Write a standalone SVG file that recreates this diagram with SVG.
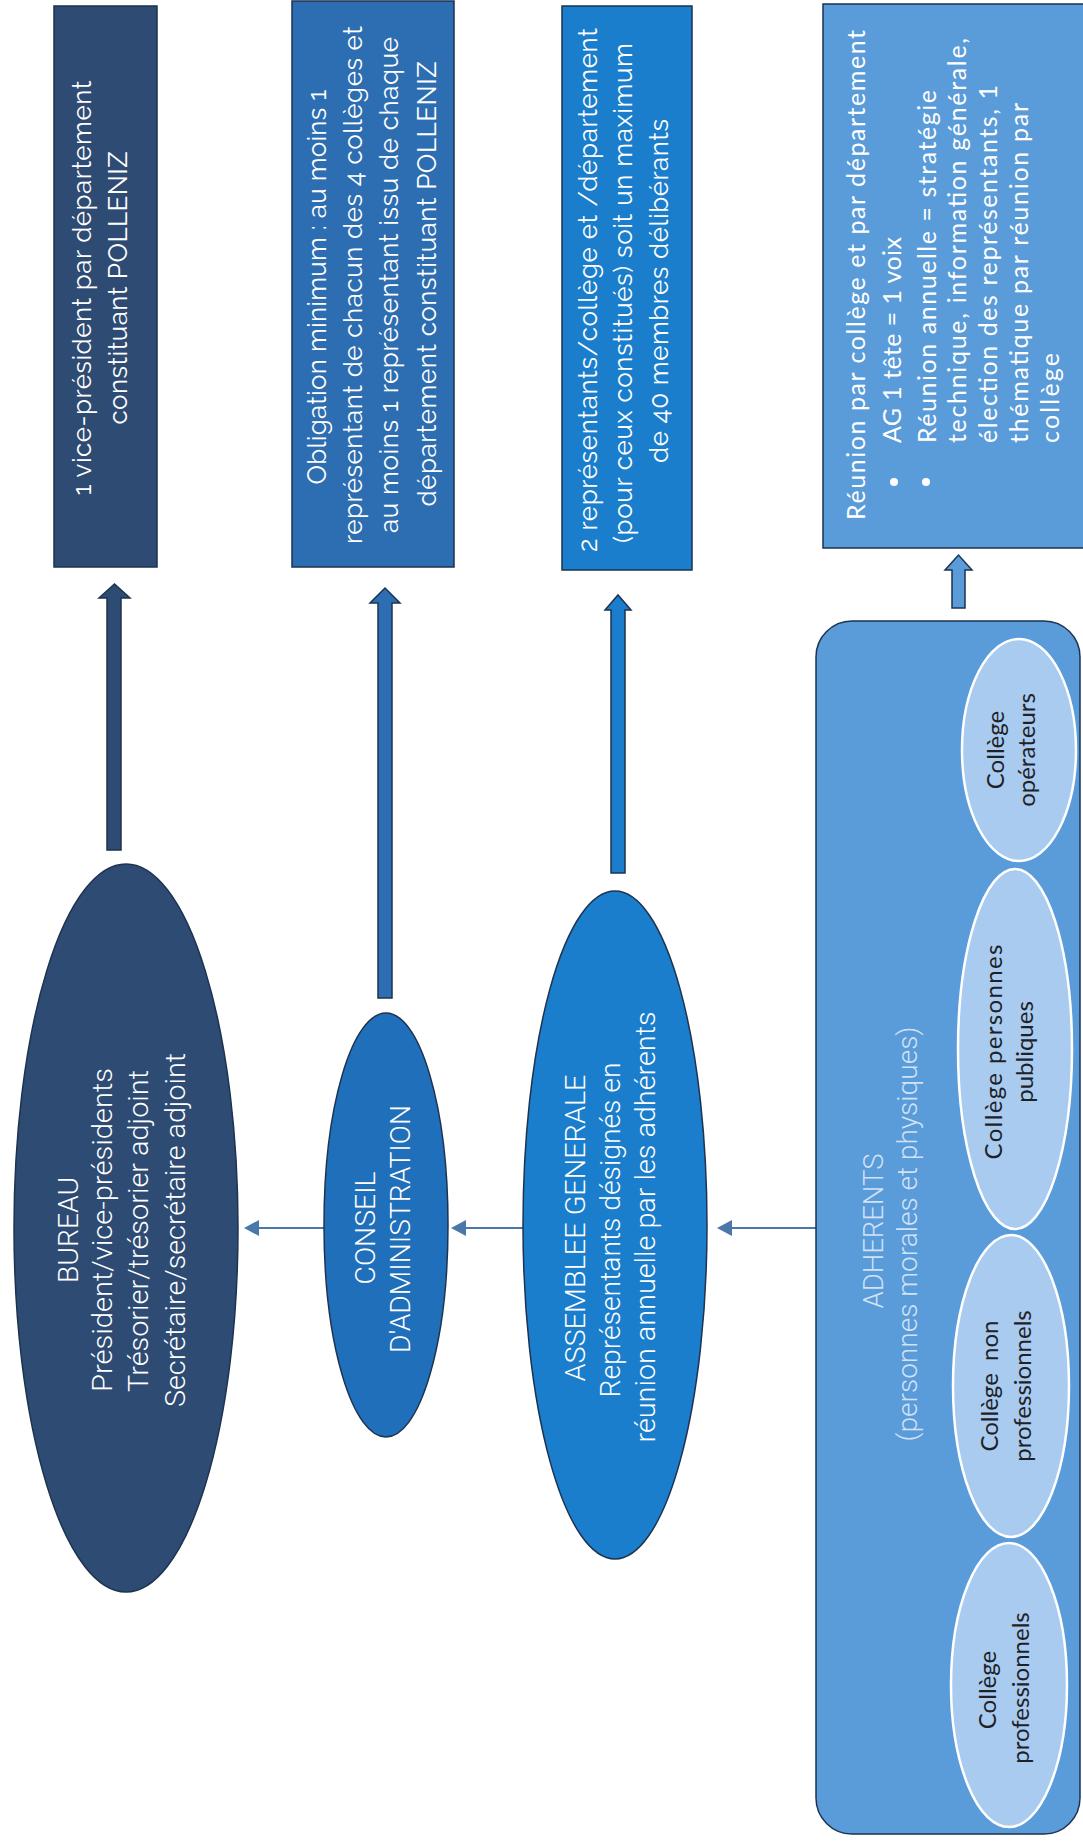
<svg xmlns="http://www.w3.org/2000/svg" width="1083" height="1844" viewBox="0 0 1083 1844">
<defs>
<style>
.bg{fill:#ffffff}
.edge{stroke:#1d3350;stroke-width:1.5}
.navy{fill:#2e4b73}
.mid{fill:#2d6db1}
.ca{fill:#1f6fba}
.bright{fill:#1a7ecd}
.light{fill:#5a9bda}
.college{fill:#a9cbf0;stroke:#ffffff;stroke-width:2.5}
.t{font-family:Raleway,Lato,"Liberation Sans",sans-serif;fill:#ffffff;font-size:26px}
.c{font-family:Lato,"Liberation Sans",sans-serif;fill:#ffffff;font-size:25px}
.e{font-family:Roboto,"Liberation Sans",sans-serif;font-weight:300;fill:#ffffff;font-size:28px}
.k{font-family:Lato,"Liberation Sans",sans-serif;fill:#1e2226;font-size:24px}
.m{text-anchor:middle}
.hl{stroke:#4a78a8;stroke-width:2;fill:none}
.vh{stroke:#1d3350;stroke-width:1.5}
</style>
<marker id="ah" viewBox="0 0 15 16" refX="1" refY="8" markerWidth="15" markerHeight="16" markerUnits="userSpaceOnUse" orient="auto-start-reverse">
<path d="M0,0 L15,8 L0,16 z" fill="#4a78a8"/>
</marker>
</defs>
<rect class="bg" x="0" y="0" width="1083" height="1844"/>

<g id="connectors">
<path class="vh navy" d="M107,850 L107,598 L99,598 L114.5,584 L130,598 L121,598 L121,850 Z"/>
<path class="vh mid" d="M378,998 L378,603 L370,603 L385,588 L400,603 L392,603 L392,998 Z"/>
<path class="vh bright" d="M611,873 L611,610 L605,610 L618,595 L631,610 L625,610 L625,873 Z"/>
<path class="vh light" d="M952,608 L952,570 L945,570 L958.5,555 L972,570 L965,570 L965,608 Z"/>
<line class="hl" x1="324" y1="1228" x2="258" y2="1228" marker-end="url(#ah)"/>
<line class="hl" x1="524" y1="1228" x2="465" y2="1228" marker-end="url(#ah)"/>
<line class="hl" x1="817" y1="1228" x2="731" y2="1228" marker-end="url(#ah)"/>
</g>

<g id="box-vp">
<rect class="navy edge" x="54" y="6" width="103" height="561"/>
<text class="t m" x="91" y="288" transform="rotate(-90 91 288)" textLength="415">1 vice-président par département</text>
<text class="t m" x="127" y="288" transform="rotate(-90 127 288)" textLength="273">constituant POLLENIZ</text>
</g>

<g id="box-obligation">
<rect class="mid edge" x="292" y="1" width="162" height="566"/>
<text class="t m" x="326" y="287" transform="rotate(-90 326 287)" textLength="395">Obligation minimum : au moins 1</text>
<text class="t m" x="362" y="285" transform="rotate(-90 362 285)" textLength="518">représentant de chacun des 4 collèges et</text>
<text class="t m" x="398" y="285" transform="rotate(-90 398 285)" textLength="496">au moins 1 représentant issu de chaque</text>
<text class="t m" x="436" y="284" transform="rotate(-90 436 284)" textLength="445">département constituant POLLENIZ</text>
</g>

<g id="box-representants">
<rect class="bright edge" x="562" y="6" width="130" height="564"/>
<text class="t m" x="597" y="290" transform="rotate(-90 597 290)" textLength="524">2 représentants/collège et /département</text>
<text class="t m" x="632" y="293" transform="rotate(-90 632 293)" textLength="500">(pour ceux constitués) soit un maximum</text>
<text class="t m" x="668" y="291" transform="rotate(-90 668 291)" textLength="344">de 40 membres délibérants</text>
</g>

<g id="box-reunion">
<rect class="light edge" x="823" y="4" width="270" height="544"/>
<text class="c" x="865" y="520" transform="rotate(-90 865 520)" textLength="490">Réunion par collège et par département</text>
<circle cx="894" cy="482" r="4" fill="#ffffff"/>
<circle cx="926" cy="482" r="4" fill="#ffffff"/>
<text class="c" x="901" y="443" transform="rotate(-90 901 443)" textLength="206">AG 1 tête = 1 voix</text>
<text class="c" x="936" y="443" transform="rotate(-90 936 443)" textLength="353">Réunion annuelle = stratégie</text>
<text class="c" x="966" y="443" transform="rotate(-90 966 443)" textLength="405">technique, information générale,</text>
<text class="c" x="997" y="443" transform="rotate(-90 997 443)" textLength="358">élection des représentants, 1</text>
<text class="c" x="1028" y="443" transform="rotate(-90 1028 443)" textLength="340">thématique par réunion par</text>
<text class="c" x="1059" y="443" transform="rotate(-90 1059 443)" textLength="90">collège</text>
</g>

<g id="bureau">
<ellipse class="navy edge" cx="126" cy="1228" rx="112" ry="364"/>
<text class="e m" x="78" y="1230" transform="rotate(-90 78 1230)" textLength="106" lengthAdjust="spacingAndGlyphs">BUREAU</text>
<text class="e m" x="112" y="1230" transform="rotate(-90 112 1230)" textLength="324" lengthAdjust="spacingAndGlyphs">Président/vice-présidents</text>
<text class="e m" x="148" y="1231" transform="rotate(-90 148 1231)" textLength="322" lengthAdjust="spacingAndGlyphs">Trésorier/trésorier adjoint</text>
<text class="e m" x="185" y="1230" transform="rotate(-90 185 1230)" textLength="354" lengthAdjust="spacingAndGlyphs">Secrétaire/secrétaire adjoint</text>
</g>

<g id="conseil">
<ellipse class="ca edge" cx="386" cy="1225" rx="62" ry="212"/>
<text class="e m" x="375" y="1228" transform="rotate(-90 375 1228)" textLength="113" lengthAdjust="spacingAndGlyphs">CONSEIL</text>
<text class="e m" x="410" y="1229" transform="rotate(-90 410 1229)" textLength="248" lengthAdjust="spacingAndGlyphs">D'ADMINISTRATION</text>
</g>

<g id="assemblee">
<ellipse class="bright edge" cx="615" cy="1225" rx="92" ry="334"/>
<text class="e m" x="585" y="1228" transform="rotate(-90 585 1228)" textLength="307" lengthAdjust="spacingAndGlyphs">ASSEMBLEE GENERALE</text>
<text class="e m" x="620" y="1230" transform="rotate(-90 620 1230)" textLength="335" lengthAdjust="spacingAndGlyphs">Représentants désignés en</text>
<text class="e m" x="655" y="1227" transform="rotate(-90 655 1227)" textLength="431" lengthAdjust="spacingAndGlyphs">réunion annuelle par les adhérents</text>
</g>

<g id="adherents">
<rect class="light edge" x="816" y="621" width="264" height="1213" rx="36" ry="36"/>
<text class="e m" x="883" y="1231" transform="rotate(-90 883 1231)" fill-opacity="0.72" textLength="155" lengthAdjust="spacingAndGlyphs">ADHERENTS</text>
<text class="e m" x="917" y="1234" transform="rotate(-90 917 1234)" fill-opacity="0.72" textLength="415" lengthAdjust="spacingAndGlyphs">(personnes morales et physiques)</text>
</g>

<g id="college-operateurs">
<ellipse class="college" cx="1019" cy="750" rx="57" ry="111"/>
<text class="k m" x="1004" y="750" transform="rotate(-90 1004 750)">Collège</text>
<text class="k m" x="1035" y="750" transform="rotate(-90 1035 750)">opérateurs</text>
</g>

<g id="college-publiques">
<ellipse class="college" cx="1015" cy="1049" rx="57" ry="180"/>
<text class="k m" x="1002" y="1052" transform="rotate(-90 1002 1052)" textLength="215">Collège personnes</text>
<text class="k m" x="1033" y="1052" transform="rotate(-90 1033 1052)">publiques</text>
</g>

<g id="college-non-professionnels">
<ellipse class="college" cx="1011" cy="1386" rx="58" ry="151"/>
<text class="k m" x="998" y="1386" transform="rotate(-90 998 1386)" xml:space="preserve">Collège  non</text>
<text class="k m" x="1031" y="1386" transform="rotate(-90 1031 1386)">professionnels</text>
</g>

<g id="college-professionnels">
<ellipse class="college" cx="1009" cy="1685" rx="58" ry="142"/>
<text class="k m" x="996" y="1690" transform="rotate(-90 996 1690)">Collège</text>
<text class="k m" x="1029" y="1688" transform="rotate(-90 1029 1688)">professionnels</text>
</g>
</svg>
